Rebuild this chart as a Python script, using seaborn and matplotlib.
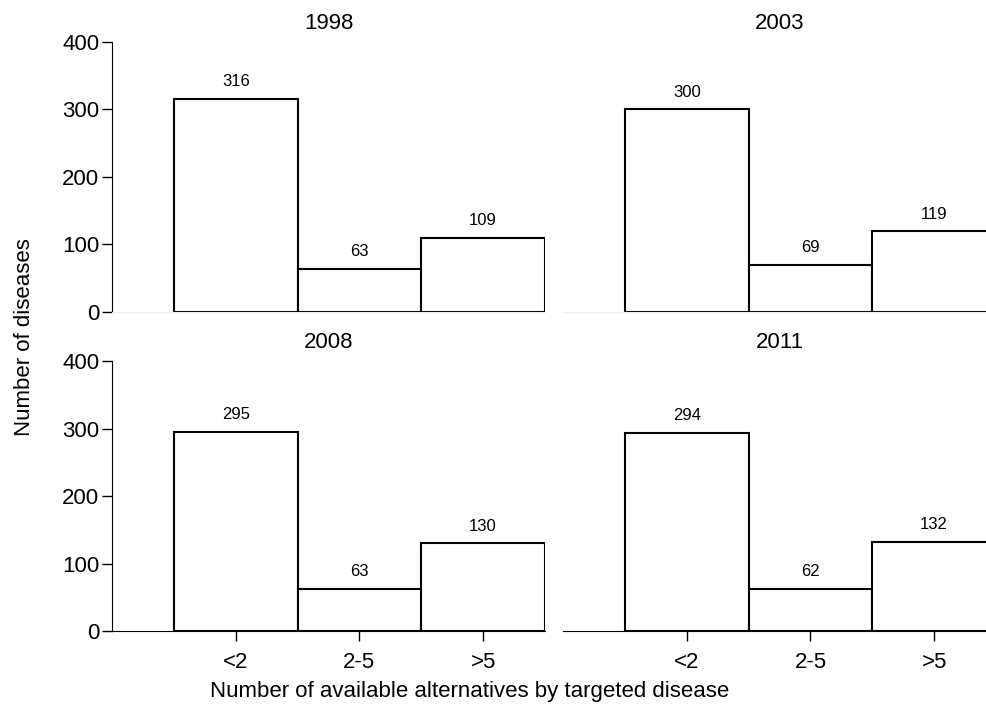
import seaborn as sns
import numpy as np
import pandas as pd
from matplotlib import pyplot as plt

years = ["1998", "2003", "2008", "2011"]
categories = ["<2", "2-5", ">5"]
counts_1998 = [316, 63, 109]
counts_2003 = [300, 69, 119]
counts_2008 = [295, 63, 130]
counts_2011 = [294, 62, 132]

rows = []
for year, counts in zip(years, [counts_1998, counts_2003, counts_2008, counts_2011]):
    for cat, n in zip(categories, counts):
        rows.append({"year": year, "alternatives": cat, "diseases": n})
df = pd.DataFrame(rows)

sns.set_style("white")
plt.rcParams['font.family'] = ['Liberation Sans', 'DejaVu Sans']
plt.rcParams['text.color'] = 'black'
plt.rcParams['axes.labelcolor'] = 'black'
plt.rcParams['xtick.color'] = 'black'
plt.rcParams['ytick.color'] = 'black'

fig, axes = plt.subplots(2, 2, figsize=(9.87, 7.11), dpi=100)
plt.subplots_adjust(left=112/987, right=996/987, top=1-42/711, bottom=1-631/711,
                    wspace=0.042, hspace=0.185)

for ax, year in zip(axes.flat, years):
    sub = df[df["year"] == year]
    sns.barplot(data=sub, x="alternatives", y="diseases", order=categories, ax=ax,
                color="white", edgecolor="black", linewidth=1.5, width=1, saturation=1)
    ax.bar_label(ax.containers[0], padding=7, fontsize=12, color="black")
    ax.set_xlim(-1, 2.5)
    ax.set_ylim(0, 400)
    ax.set_yticks([0, 100, 200, 300, 400])
    ax.set_title(year, fontsize=16, pad=9.5, color="black")
    ax.set_xlabel("")
    ax.set_ylabel("")
    for s in ["top", "right"]:
        ax.spines[s].set_visible(False)
    ax.tick_params(labelsize=16, length=7, width=1, color="black")

for ax in axes[0]:
    ax.spines["bottom"].set_color("#f0f0f0")
    ax.set_xticks([])
for ax in axes[1]:
    ax.spines["bottom"].set_color("black")
    ax.tick_params(axis="x", bottom=True, length=7, pad=8)
for ax in axes[:, 0]:
    ax.spines["left"].set_color("black")
    ax.tick_params(axis="y", left=True, length=7, pad=2)
for ax in axes[:, 1]:
    ax.spines["left"].set_visible(False)
    ax.set_yticks([])

fig.text(25/987, 1-337/711, "Number of diseases", rotation=90, va="center", ha="center", fontsize=16)
fig.text(470/987, 1-692/711, "Number of available alternatives by targeted disease",
         va="center", ha="center", fontsize=16)

plt.savefig("out.png", dpi=100)
